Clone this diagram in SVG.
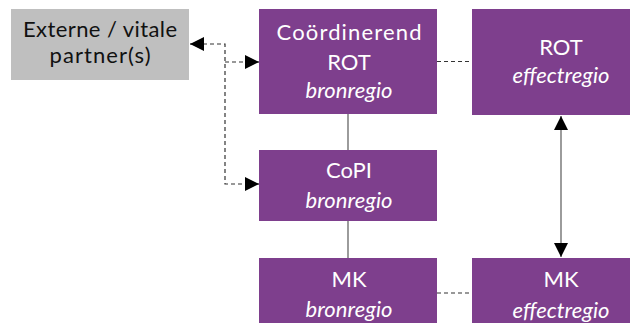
<svg xmlns="http://www.w3.org/2000/svg" width="638" height="324" viewBox="0 0 638 324">
<defs>
<style>
.box{fill:#7e3f8d}
.grey{fill:#bfbfbf}
text{font-family:Lato,"Open Sans","Liberation Sans",sans-serif;font-size:22px;text-anchor:middle}
.w{fill:#ffffff}
.k{fill:#111111}
.i{font-style:italic}
.solid{stroke:#666666;stroke-width:1.3;fill:none}
.dash{stroke:#333333;stroke-width:1.2;stroke-dasharray:4 3;fill:none}
</style>
<marker id="ah" viewBox="0 0 10 10" refX="10" refY="5" markerWidth="14" markerHeight="14" markerUnits="userSpaceOnUse" orient="auto-start-reverse">
<path d="M0,0 L10,5 L0,10 z" fill="#000"/>
</marker>
</defs>
<rect width="638" height="324" fill="#ffffff"/>
<g id="connectors">
<line class="solid" x1="348" y1="114" x2="348" y2="150"/>
<line class="solid" x1="348" y1="221" x2="348" y2="258"/>
<line class="dash" x1="437" y1="61.5" x2="472" y2="61.5"/>
<line class="dash" x1="437" y1="293" x2="472" y2="293"/>
<line class="solid" x1="561" y1="116" x2="561" y2="257" marker-start="url(#ah)" marker-end="url(#ah)"/>
<polyline class="dash" points="203,44 225,44 225,184 245,184"/>
<line class="dash" x1="225" y1="62" x2="245" y2="62"/>
<line x1="203" y1="44" x2="190" y2="44" stroke="#000" stroke-width="1" marker-end="url(#ah)"/>
<line x1="245" y1="62" x2="259" y2="62" stroke="#000" stroke-width="1" marker-end="url(#ah)"/>
<line x1="245" y1="184" x2="259" y2="184" stroke="#000" stroke-width="1" marker-end="url(#ah)"/>
</g>
<g id="externe">
<rect class="grey" x="11" y="9" width="178" height="71"/>
<text class="k" x="100" y="37" textLength="154">Externe / vitale</text>
<text class="k" x="100" y="63" textLength="101">partner(s)</text>
</g>
<g id="coord-rot">
<rect class="box" x="259" y="9" width="178" height="105"/>
<text class="w" x="349" y="40" textLength="145">Coördinerend</text>
<text class="w" x="349" y="70">ROT</text>
<text class="w i" x="349" y="98" textLength="87">bronregio</text>
</g>
<g id="rot-effect">
<rect class="box" x="472" y="9" width="158" height="106"/>
<text class="w" x="561" y="55">ROT</text>
<text class="w i" x="561" y="83" textLength="97">effectregio</text>
</g>
<g id="copi">
<rect class="box" x="259" y="150" width="178" height="71"/>
<text class="w" x="349" y="178">CoPI</text>
<text class="w i" x="349" y="208" textLength="87">bronregio</text>
</g>
<g id="mk-bron">
<rect class="box" x="259" y="258" width="178" height="65"/>
<text class="w" x="349" y="287">MK</text>
<text class="w i" x="349" y="317" textLength="87">bronregio</text>
</g>
<g id="mk-effect">
<rect class="box" x="472" y="258" width="158" height="65"/>
<text class="w" x="561" y="287">MK</text>
<text class="w i" x="561" y="318" textLength="97">effectregio</text>
</g>
</svg>
